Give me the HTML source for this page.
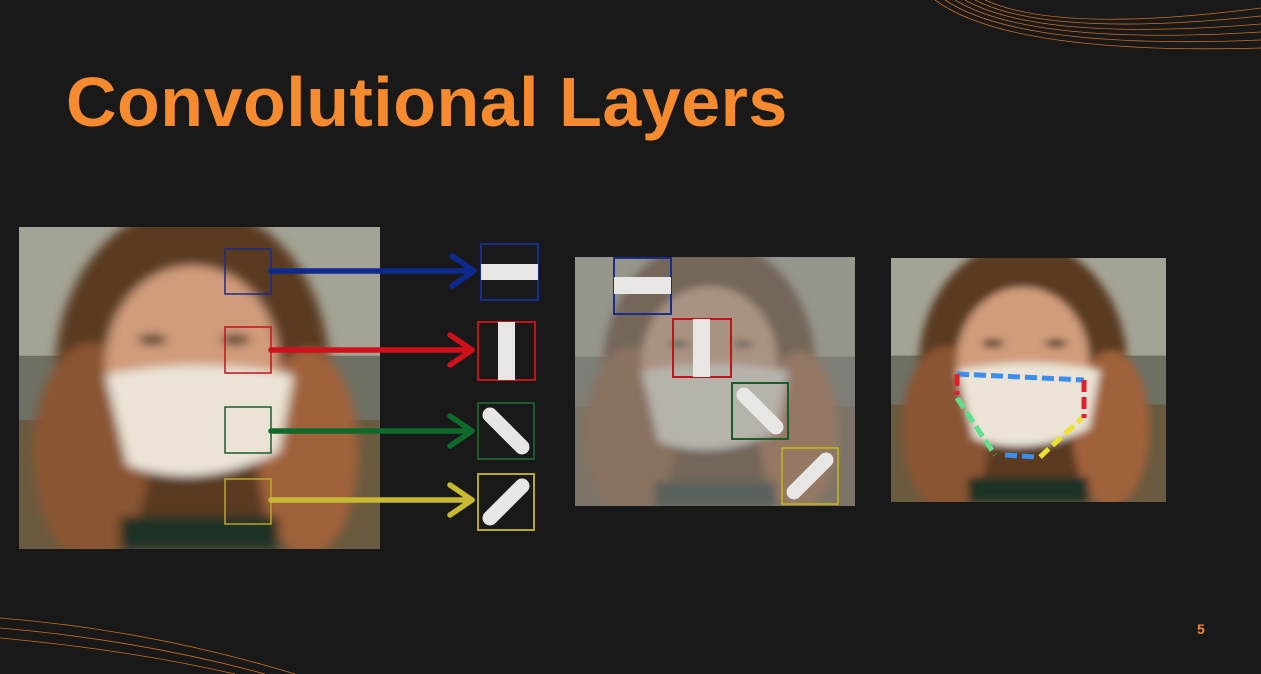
<!DOCTYPE html>
<html><head><meta charset="utf-8">
<style>
html,body{margin:0;padding:0;}
body{width:1261px;height:674px;background:#181918;position:relative;overflow:hidden;font-family:"Liberation Sans",sans-serif;}
.abs{position:absolute;}
h1{position:absolute;left:66px;top:62px;margin:0;font-size:70px;font-weight:bold;color:#F58A2F;letter-spacing:0.5px;}
.pg{left:1197px;top:621px;color:#F58A2F;font-size:14px;font-weight:bold;}
</style></head>
<body>
<svg width="0" height="0" style="position:absolute">
 <defs>
  <filter id="blur" x="-20%" y="-20%" width="140%" height="140%"><feGaussianBlur stdDeviation="1.5"/></filter>
  <symbol id="face" viewBox="0 0 100 100" preserveAspectRatio="none">
   <rect width="100" height="100" fill="#6e7064"/>
   <rect y="0" width="100" height="40" fill="#a4a496"/>
   <rect y="60" width="100" height="40" fill="#6a5a40"/>
   <g filter="url(#blur)">
    <ellipse cx="48" cy="45" rx="38" ry="52" fill="#5a3a22"/>
    <ellipse cx="20" cy="70" rx="16" ry="34" fill="#8a5432"/>
    <ellipse cx="80" cy="70" rx="14" ry="32" fill="#a0623a"/>
    <ellipse cx="48" cy="42" rx="24" ry="30" fill="#d09c7c"/>
    <ellipse cx="37" cy="35" rx="4" ry="1.6" fill="#3a2a1a"/>
    <ellipse cx="60" cy="35" rx="4" ry="1.6" fill="#3a2a1a"/>
    <path d="M24 46 Q50 40 76 46 L72 70 Q50 82 30 74 Z" fill="#ebe4d6"/>
    <rect x="28" y="90" width="44" height="10" fill="#1a3228"/>
   </g>
  </symbol>
 </defs>
</svg>

<h1>Convolutional Layers</h1>

<svg class="abs" style="left:0;top:0" width="1261" height="674">
 <g fill="none" stroke="#E07A28" stroke-width="0.8" opacity="0.9">
  <path d="M935 0 Q1010 55 1261 48"/><path d="M945 0 Q1020 50 1261 40"/><path d="M955 0 Q1030 46 1261 32"/>
  <path d="M965 0 Q1040 42 1261 24"/><path d="M975 0 Q1050 38 1261 16"/><path d="M985 0 Q1060 34 1261 8"/>
  <path d="M0 618 Q150 630 295 674"/><path d="M0 628 Q140 640 265 674"/><path d="M0 638 Q130 650 235 674"/>
 </g>
</svg>

<svg class="abs" style="left:19px;top:227px" width="361" height="322"><use href="#face" width="361" height="322"/></svg>
<svg class="abs" style="left:575px;top:257px" width="280" height="249"><use href="#face" width="280" height="249"/><rect width="280" height="249" fill="#8a8a86" opacity="0.55"/></svg>
<svg class="abs" style="left:891px;top:258px" width="275" height="244"><use href="#face" width="275" height="244"/></svg>

<svg class="abs" style="left:0;top:0" width="1261" height="674">
 <g fill="none" stroke-width="1.5">
  <rect x="225" y="249" width="46" height="45" stroke="#1a2c8c"/>
  <rect x="225" y="327" width="46" height="46" stroke="#c0141c"/>
  <rect x="225" y="407" width="46" height="46" stroke="#1e5a2c"/>
  <rect x="225" y="479" width="46" height="45" stroke="#b8a82a"/>
 </g>
 <g stroke-width="5.5" fill="none" stroke-linecap="round" stroke-linejoin="round">
  <g stroke="#0f2a8e"><path d="M271 271 H474"/><path d="M452 256 L474 271 L452 286"/></g>
  <g stroke="#d0101a"><path d="M271 350 H472"/><path d="M450 335 L472 350 L450 365"/></g>
  <g stroke="#0e6a2a"><path d="M271 431 H472"/><path d="M450 416 L472 431 L450 446"/></g>
  <g stroke="#c8ba30"><path d="M271 500 H472"/><path d="M450 485 L472 500 L450 515"/></g>
 </g>
 <g><rect x="481" y="244" width="57" height="56" fill="#181918" stroke="#1a2c8c" stroke-width="2"/><rect x="481" y="264" width="57" height="16" fill="#e8e6e4"/></g>
 <g><rect x="478" y="322" width="57" height="58" fill="#181918" stroke="#c0141c" stroke-width="2"/><rect x="498" y="322" width="17" height="58" fill="#e8e6e4"/></g>
 <g><rect x="478" y="403" width="56" height="56" fill="#181918" stroke="#1e5a2c" stroke-width="2"/><path d="M490 415 L522 447" stroke="#e8e6e4" stroke-width="15" stroke-linecap="round"/></g>
 <g><rect x="478" y="474" width="56" height="56" fill="#181918" stroke="#b8a82a" stroke-width="2"/><path d="M490 518 L522 486" stroke="#e8e6e4" stroke-width="15" stroke-linecap="round"/></g>

 <g>
  <rect x="614" y="258" width="57" height="56" fill="none" stroke="#1a2c8c" stroke-width="2"/><rect x="614" y="277" width="57" height="17" fill="#e8e6e4"/>
  <rect x="673" y="319" width="58" height="58" fill="none" stroke="#c0141c" stroke-width="2"/><rect x="693" y="319" width="17" height="58" fill="#e8e6e4"/>
  <rect x="732" y="383" width="56" height="56" fill="none" stroke="#1e5a2c" stroke-width="2"/><path d="M744 395 L776 427" stroke="#e8e6e4" stroke-width="15" stroke-linecap="round"/>
  <rect x="782" y="448" width="56" height="56" fill="none" stroke="#b8a82a" stroke-width="2"/><path d="M794 492 L826 460" stroke="#e8e6e4" stroke-width="15" stroke-linecap="round"/>
 </g>

 <g fill="none" stroke-width="5" stroke-dasharray="12 5">
  <path d="M957 374 L1084 380" stroke="#3a8ef0"/>
  <path d="M957 374 L957 395" stroke="#e0202a"/>
  <path d="M1084 380 L1084 418" stroke="#e0202a"/>
  <path d="M957 398 L995 455" stroke="#5ee08a"/>
  <path d="M1005 455 L1037 457" stroke="#3a8ef0"/>
  <path d="M1040 457 L1082 418" stroke="#f0e030"/>
 </g>
</svg>

<div class="abs pg">5</div>
</body></html>
